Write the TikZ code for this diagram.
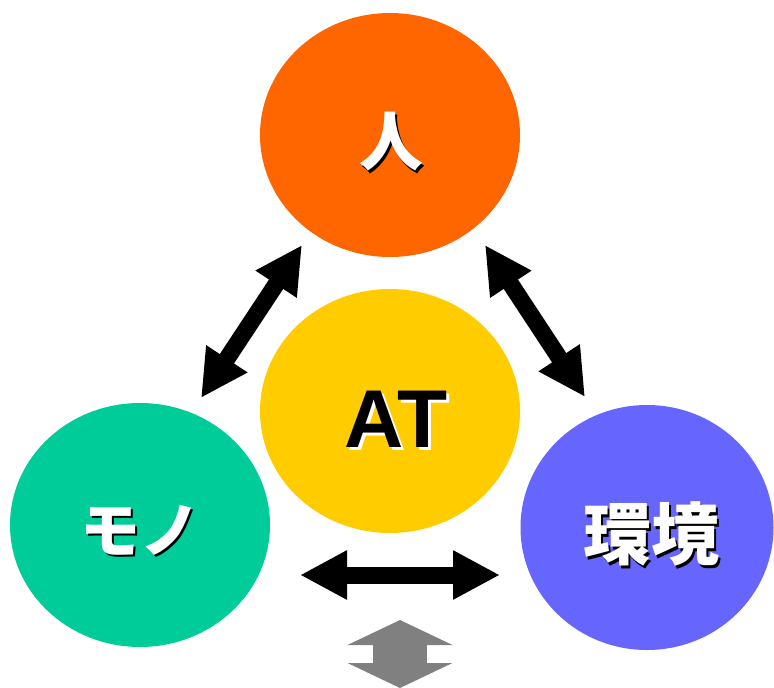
\documentclass[tikz,border=0pt]{standalone}
\usepackage{fontspec}
\setmainfont{Liberation Sans}
\newfontfamily\jpfont{Noto Sans CJK JP}
\usetikzlibrary{shapes.geometric,arrows.meta}
\definecolor{cOrange}{HTML}{FF6600}
\definecolor{cYellow}{HTML}{FFCC00}
\definecolor{cGreen}{HTML}{00CC99}
\definecolor{cBlue}{HTML}{6666FF}
\definecolor{cGray}{HTML}{808080}
\begin{document}
\begin{tikzpicture}[x=1pt,y=-1pt,
  blob/.style={ellipse, minimum width=260pt, minimum height=244pt, inner sep=0pt, draw=none},
  dbl/.style={line width=17pt, {Triangle[width=46pt,length=47pt]}-{Triangle[width=46pt,length=47pt]}},
  grayarrow/.style={cGray, line width=54pt, {Triangle[width=104pt,length=25pt]}-{Triangle[width=104pt,length=25pt]}},
  jp/.style={font=\jpfont\bfseries\fontsize{#1}{#1}\selectfont, inner sep=0pt},
  lat/.style={font=\bfseries\fontsize{#1}{#1}\selectfont, inner sep=0pt}
]
\useasboundingbox (0,0) rectangle (774,688);
% ellipses
\node[blob, fill=cOrange] (hito) at (390,135) {};
\node[blob, fill=cYellow] (at) at (390,411) {};
\node[blob, fill=cGreen] (mono) at (140,525) {};
\node[blob, fill=cBlue, minimum width=253pt, minimum height=245pt] (kankyo) at (647,527.5) {};
% texts with shadows
\node[jp=64, text=black] (hitoS) at (393.5,144.5) {人};
\node[jp=64, text=white] (hitoT) at (391,142) {人};
\node[lat=82, text=white] (atS) at (399,422) {AT};
\node[lat=82, text=black] (atT) at (396,419) {AT};
\node[jp=60, text=black] (monoS) at (142.5,532.5) {モノ};
\node[jp=60, text=white] (monoT) at (140,530) {モノ};
\node[jp=68, text=black] (kankyoS) at (653.5,536.5) {環境};
\node[jp=68, text=white] (kankyoT) at (651,534) {環境};
% arrow end points
\coordinate (la) at (302,245);
\coordinate (lb) at (201,398);
\coordinate (ra) at (485,245);
\coordinate (rb) at (585,397);
\coordinate (ha) at (300,575);
\coordinate (hb) at (500,575);
\coordinate (ga) at (400,620);
\coordinate (gb) at (400,688);
\draw[dbl] (la) -- (lb);
\draw[dbl] (ra) -- (rb);
\draw[dbl] (ha) -- (hb);
\draw[grayarrow] (ga) -- (gb);
\end{tikzpicture}
\end{document}
